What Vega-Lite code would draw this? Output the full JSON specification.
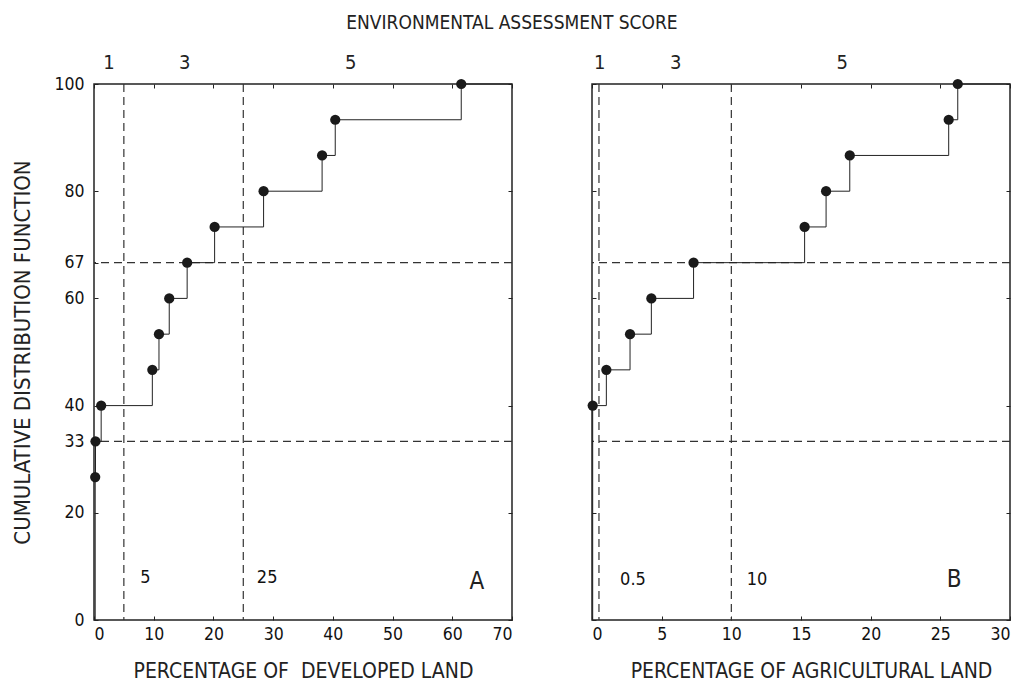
{
  "$schema": "https://vega.github.io/schema/vega-lite/v6.json",
  "background": "white",
  "padding": {"left": 11, "top": 13, "right": 5, "bottom": 2},
  "title": {"text": "ENVIRONMENTAL ASSESSMENT SCORE", "anchor": "middle", "fontSize": 19, "fontWeight": "normal", "color": "#222", "offset": 19},
  "config": {
    "font": "DejaVu Sans Condensed, Liberation Sans Narrow, DejaVu Sans, sans-serif",
    "view": {"stroke": "#222", "strokeWidth": 1.5},
    "axis": {"grid": false, "domain": false, "tickColor": "#222", "tickSize": -4, "tickWidth": 1, "labelColor": "#111", "labelFontSize": 17.5, "titleFontSize": 21, "titleFontWeight": "normal", "titleColor": "#222", "labelFont": "DejaVu Sans Condensed, Liberation Sans Narrow, sans-serif", "titleFont": "DejaVu Sans Condensed, Liberation Sans Narrow, sans-serif"}
  },
  "datasets": {
    "steps": [
      {"panel": "A", "x": 0.2, "y": 0, "dot": false},
      {"panel": "A", "x": 0.2, "y": 26.67, "dot": true},
      {"panel": "A", "x": 0.25, "y": 33.33, "dot": true},
      {"panel": "A", "x": 1.2, "y": 40, "dot": true},
      {"panel": "A", "x": 9.77, "y": 46.67, "dot": true},
      {"panel": "A", "x": 10.88, "y": 53.33, "dot": true},
      {"panel": "A", "x": 12.6, "y": 60, "dot": true},
      {"panel": "A", "x": 15.6, "y": 66.67, "dot": true},
      {"panel": "A", "x": 20.2, "y": 73.33, "dot": true},
      {"panel": "A", "x": 28.4, "y": 80, "dot": true},
      {"panel": "A", "x": 38.2, "y": 86.67, "dot": true},
      {"panel": "A", "x": 40.4, "y": 93.33, "dot": true},
      {"panel": "A", "x": 61.5, "y": 100, "dot": true},
      {"panel": "A", "x": 70, "y": 100.01, "dot": false},
      {"panel": "B", "x": 0.05, "y": 0, "dot": false},
      {"panel": "B", "x": 0.05, "y": 40, "dot": true},
      {"panel": "B", "x": 1.03, "y": 46.67, "dot": true},
      {"panel": "B", "x": 2.73, "y": 53.33, "dot": true},
      {"panel": "B", "x": 4.26, "y": 60, "dot": true},
      {"panel": "B", "x": 7.29, "y": 66.67, "dot": true},
      {"panel": "B", "x": 15.26, "y": 73.33, "dot": true},
      {"panel": "B", "x": 16.8, "y": 80, "dot": true},
      {"panel": "B", "x": 18.5, "y": 86.67, "dot": true},
      {"panel": "B", "x": 25.6, "y": 93.33, "dot": true},
      {"panel": "B", "x": 26.25, "y": 100, "dot": true},
      {"panel": "B", "x": 30, "y": 100.01, "dot": false}
    ],
    "vlines": [
      {"panel": "A", "x": 5},
      {"panel": "A", "x": 25},
      {"panel": "B", "x": 0.5},
      {"panel": "B", "x": 10}
    ],
    "hlines": [
      {"panel": "A", "y": 33.33},
      {"panel": "A", "y": 66.67},
      {"panel": "B", "y": 33.33},
      {"panel": "B", "y": 66.67}
    ],
    "labels": [
      {"panel": "A", "kind": "top", "x": 2.5, "y": 104, "label": "1"},
      {"panel": "A", "kind": "top", "x": 15.2, "y": 104, "label": "3"},
      {"panel": "A", "kind": "top", "x": 43.0, "y": 104, "label": "5"},
      {"panel": "A", "kind": "bottom", "x": 8.6, "y": 7.9, "label": "5"},
      {"panel": "A", "kind": "bottom", "x": 29.0, "y": 7.9, "label": "25"},
      {"panel": "A", "kind": "letter", "x": 64.1, "y": 7.0, "label": "A"},
      {"panel": "B", "kind": "top", "x": 0.55, "y": 104, "label": "1"},
      {"panel": "B", "kind": "top", "x": 6.0, "y": 104, "label": "3"},
      {"panel": "B", "kind": "top", "x": 17.95, "y": 104, "label": "5"},
      {"panel": "B", "kind": "bottom", "x": 2.94, "y": 7.4, "label": "0.5"},
      {"panel": "B", "kind": "bottom", "x": 11.85, "y": 7.4, "label": "10"},
      {"panel": "B", "kind": "letter", "x": 26.0, "y": 7.5, "label": "B"}
    ]
  },
  "spacing": 71,
  "hconcat": [
    {
      "width": 418,
      "height": 536,
      "layer": [
        {
          "data": {"name": "hlines"},
          "transform": [{"filter": "datum.panel === 'A'"}],
          "mark": {"type": "rule", "color": "#333", "strokeWidth": 1.2, "strokeDash": [8, 5]},
          "encoding": {
            "y": {"field": "y", "type": "quantitative", "scale": {"domain": [0, 100], "nice": false, "zero": false},
              "axis": {"orient": "left", "values": [0, 20, 33.33, 40, 60, 66.67, 80, 100], "format": ".0f", "labelPadding": 14, "title": "CUMULATIVE DISTRIBUTION FUNCTION", "titleFontSize": 22, "titlePadding": 19}}
          }
        },
        {
          "data": {"name": "vlines"},
          "transform": [{"filter": "datum.panel === 'A'"}],
          "mark": {"type": "rule", "color": "#333", "strokeWidth": 1.2, "strokeDash": [8, 5]},
          "encoding": {
            "x": {"field": "x", "type": "quantitative", "scale": {"domain": [0, 70], "nice": false, "zero": false},
              "axis": {"orient": "bottom", "values": [0, 10, 20, 30, 40, 50, 60, 70], "labelPadding": 9, "title": "PERCENTAGE OF\u00a0 DEVELOPED LAND", "titlePadding": 18}}
          }
        },
        {
          "data": {"name": "steps"},
          "transform": [{"filter": "datum.panel === 'A'"}],
          "mark": {"type": "line", "interpolate": "step-after", "color": "#222", "strokeWidth": 1},
          "encoding": {
            "x": {"field": "x", "type": "quantitative", "scale": {"domain": [0, 70], "nice": false, "zero": false},
              "axis": {"orient": "top", "values": [0, 10, 20, 30, 40, 50, 60, 70], "labels": false, "title": null}},
            "y": {"field": "y", "type": "quantitative", "scale": {"domain": [0, 100], "nice": false, "zero": false},
              "axis": {"orient": "right", "values": [0, 20, 40, 60, 80, 100], "labels": false, "title": null}},
            "order": {"field": "y", "type": "quantitative"}
          }
        },
        {
          "data": {"name": "steps"},
          "transform": [{"filter": "datum.panel === 'A' && datum.dot"}],
          "mark": {"type": "point", "filled": true, "shape": "circle", "size": 105, "color": "#1a1a1a", "opacity": 1},
          "encoding": {
            "x": {"field": "x", "type": "quantitative", "axis": null},
            "y": {"field": "y", "type": "quantitative", "axis": null}
          }
        },
        {
          "data": {"name": "labels"},
          "transform": [{"filter": "datum.panel === 'A' && datum.kind === 'top'"}],
          "mark": {"type": "text", "fontSize": 20, "color": "#222", "baseline": "middle", "align": "center"},
          "encoding": {
            "x": {"field": "x", "type": "quantitative", "axis": null},
            "y": {"field": "y", "type": "quantitative", "axis": null},
            "text": {"field": "label"}
          }
        },
        {
          "data": {"name": "labels"},
          "transform": [{"filter": "datum.panel === 'A' && datum.kind === 'bottom'"}],
          "mark": {"type": "text", "fontSize": 18, "color": "#111", "baseline": "middle", "align": "center"},
          "encoding": {
            "x": {"field": "x", "type": "quantitative", "axis": null},
            "y": {"field": "y", "type": "quantitative", "axis": null},
            "text": {"field": "label"}
          }
        },
        {
          "data": {"name": "labels"},
          "transform": [{"filter": "datum.panel === 'A' && datum.kind === 'letter'"}],
          "mark": {"type": "text", "fontSize": 24, "color": "#222", "baseline": "middle", "align": "center"},
          "encoding": {
            "x": {"field": "x", "type": "quantitative", "axis": null},
            "y": {"field": "y", "type": "quantitative", "axis": null},
            "text": {"field": "label"}
          }
        }
      ],
      "resolve": {"axis": {"x": "independent", "y": "independent"}}
    },
    {
      "width": 418,
      "height": 536,
      "layer": [
        {
          "data": {"name": "hlines"},
          "transform": [{"filter": "datum.panel === 'B'"}],
          "mark": {"type": "rule", "color": "#333", "strokeWidth": 1.2, "strokeDash": [8, 5]},
          "encoding": {
            "y": {"field": "y", "type": "quantitative", "scale": {"domain": [0, 100], "nice": false, "zero": false},
              "axis": {"orient": "left", "values": [0, 20, 40, 60, 80, 100], "labels": false, "title": null}}
          }
        },
        {
          "data": {"name": "vlines"},
          "transform": [{"filter": "datum.panel === 'B'"}],
          "mark": {"type": "rule", "color": "#333", "strokeWidth": 1.2, "strokeDash": [8, 5]},
          "encoding": {
            "x": {"field": "x", "type": "quantitative", "scale": {"domain": [0, 30], "nice": false, "zero": false},
              "axis": {"orient": "bottom", "values": [0, 5, 10, 15, 20, 25, 30], "labelPadding": 9, "title": "PERCENTAGE OF AGRICULTURAL LAND", "titlePadding": 18, "titleX": 219}}
          }
        },
        {
          "data": {"name": "steps"},
          "transform": [{"filter": "datum.panel === 'B'"}],
          "mark": {"type": "line", "interpolate": "step-after", "color": "#222", "strokeWidth": 1},
          "encoding": {
            "x": {"field": "x", "type": "quantitative", "scale": {"domain": [0, 30], "nice": false, "zero": false},
              "axis": {"orient": "top", "values": [0, 5, 10, 15, 20, 25, 30], "labels": false, "title": null}},
            "y": {"field": "y", "type": "quantitative", "scale": {"domain": [0, 100], "nice": false, "zero": false},
              "axis": {"orient": "right", "values": [0, 20, 40, 60, 80, 100], "labels": false, "title": null}},
            "order": {"field": "y", "type": "quantitative"}
          }
        },
        {
          "data": {"name": "steps"},
          "transform": [{"filter": "datum.panel === 'B' && datum.dot"}],
          "mark": {"type": "point", "filled": true, "shape": "circle", "size": 105, "color": "#1a1a1a", "opacity": 1},
          "encoding": {
            "x": {"field": "x", "type": "quantitative", "axis": null},
            "y": {"field": "y", "type": "quantitative", "axis": null}
          }
        },
        {
          "data": {"name": "labels"},
          "transform": [{"filter": "datum.panel === 'B' && datum.kind === 'top'"}],
          "mark": {"type": "text", "fontSize": 20, "color": "#222", "baseline": "middle", "align": "center"},
          "encoding": {
            "x": {"field": "x", "type": "quantitative", "axis": null},
            "y": {"field": "y", "type": "quantitative", "axis": null},
            "text": {"field": "label"}
          }
        },
        {
          "data": {"name": "labels"},
          "transform": [{"filter": "datum.panel === 'B' && datum.kind === 'bottom'"}],
          "mark": {"type": "text", "fontSize": 18, "color": "#111", "baseline": "middle", "align": "center"},
          "encoding": {
            "x": {"field": "x", "type": "quantitative", "axis": null},
            "y": {"field": "y", "type": "quantitative", "axis": null},
            "text": {"field": "label"}
          }
        },
        {
          "data": {"name": "labels"},
          "transform": [{"filter": "datum.panel === 'B' && datum.kind === 'letter'"}],
          "mark": {"type": "text", "fontSize": 24, "color": "#222", "baseline": "middle", "align": "center"},
          "encoding": {
            "x": {"field": "x", "type": "quantitative", "axis": null},
            "y": {"field": "y", "type": "quantitative", "axis": null},
            "text": {"field": "label"}
          }
        }
      ],
      "resolve": {"axis": {"x": "independent", "y": "independent"}}
    }
  ]
}
